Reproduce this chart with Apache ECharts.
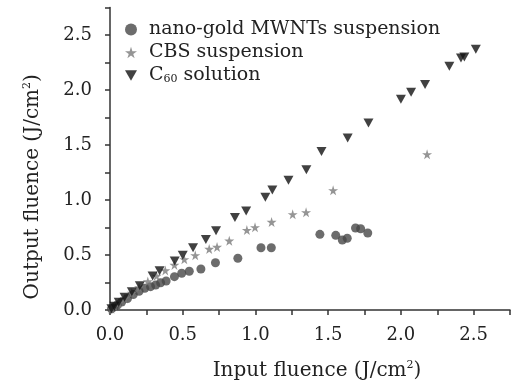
<!DOCTYPE html>
<html><head><meta charset="utf-8">
<script src="https://cdn.jsdelivr.net/npm/echarts@6/dist/echarts.min.js"></script>
<style>html,body{margin:0;padding:0;background:#fff}#c{width:513px;height:389px}</style>
</head><body><div id="c"></div>
<script>
// Data: [input fluence, output fluence] in J/cm^2
const seriesNames = ['nano-gold MWNTs suspension', 'CBS suspension', 'C60 solution'];
const goldX = [0.01,0.03,0.05,0.08,0.12,0.16,0.20,0.239,0.279,0.314,0.348,0.386,0.443,0.493,0.545,0.625,0.725,0.879,1.038,1.109,1.443,1.552,1.597,1.631,1.688,1.723,1.772];
const goldY = [0.01,0.028,0.045,0.072,0.105,0.14,0.17,0.197,0.212,0.227,0.248,0.264,0.303,0.334,0.352,0.373,0.43,0.47,0.566,0.566,0.688,0.679,0.636,0.652,0.745,0.739,0.70];
const cbsX = [0.01,0.03,0.06,0.10,0.15,0.20,0.26,0.32,0.38,0.443,0.511,0.586,0.682,0.736,0.82,0.941,0.997,1.111,1.256,1.348,1.534,2.18];
const cbsY = [0.011,0.033,0.065,0.105,0.155,0.205,0.26,0.31,0.36,0.41,0.461,0.497,0.555,0.573,0.63,0.727,0.752,0.80,0.87,0.888,1.088,1.415];
const c60X = [0.01,0.03,0.06,0.10,0.15,0.205,0.293,0.341,0.445,0.50,0.571,0.659,0.729,0.859,0.936,1.068,1.116,1.227,1.35,1.454,1.634,1.777,2.00,2.07,2.166,2.333,2.413,2.436,2.515];
const c60Y = [0.012,0.035,0.07,0.115,0.165,0.22,0.31,0.357,0.445,0.497,0.566,0.64,0.72,0.84,0.90,1.025,1.09,1.18,1.275,1.44,1.564,1.70,1.915,1.98,2.05,2.215,2.29,2.30,2.37];
const xTicks = [0, 0.5, 1.0, 1.5, 2.0, 2.5];
const yTicks = [0, 0.5, 1.0, 1.5, 2.0, 2.5];

const pair = (xs, ys) => xs.map((x, i) => [x, ys[i]]);
const FONT = 'DejaVu Serif';
const STAR = 'path://M50,0 L61,35 L98,35 L68,57 L79,91 L50,70 L21,91 L32,57 L2,35 L39,35 Z';
const TRI_DOWN = 'path://M0,0 L10,0 L5,8.6 Z';
const isMajor = (v, ticks) => ticks.some(t => Math.abs(t - v) < 1e-6);

const chart = echarts.init(document.getElementById('c'), null, {renderer: 'canvas'});
chart.setOption({
  animation: false,
  backgroundColor: '#fff',
  grid: {left: 110, right: 0, top: 7.5, bottom: 79},
  legend: {
    orient: 'vertical', left: 120, top: 15, itemGap: 4, itemWidth: 12, itemHeight: 15,
    data: seriesNames,
    formatter: n => n === 'C60 solution' ? '{b|C}{sub|60}{b| solution}' : n,
    textStyle: {
      fontFamily: FONT, fontSize: 19, color: '#222', padding: [0, 0, 0, 7],
      rich: {
        b: {fontFamily: FONT, fontSize: 19, color: '#222'},
        sub: {fontFamily: FONT, fontSize: 11, color: '#222', verticalAlign: 'bottom', padding: [8, 0, 0, 0]}
      }
    }
  },
  xAxis: {
    type: 'value', min: 0, max: 2.75, interval: 0.25,
    name: '{a|Input fluence (J/cm}{s|2}{a|)}', nameLocation: 'middle', nameGap: 50,
    nameTextStyle: {padding: [0, 0, 0, 14], rich: {
      a: {fontFamily: FONT, fontSize: 20, color: '#222'},
      s: {fontFamily: FONT, fontSize: 11, color: '#222', verticalAlign: 'top', padding: [0, 0, 10, 0]}
    }},
    axisLine: {lineStyle: {color: '#333', width: 1.5}},
    axisTick: {inside: false, length: 5, lineStyle: {color: '#333', width: 1.5}},
    axisLabel: {fontFamily: FONT, fontSize: 18, color: '#222', margin: 16,
      formatter: v => isMajor(v, xTicks) ? v.toFixed(1) : ''},
    splitLine: {show: false}
  },
  yAxis: {
    type: 'value', min: 0, max: 2.75, interval: 0.25,
    name: '{a|Output fluence (J/cm}{s|2}{a|)}', nameLocation: 'middle', nameGap: 67,
    nameTextStyle: {padding: [0, 56, 0, 0], rich: {
      a: {fontFamily: FONT, fontSize: 20, color: '#222'},
      s: {fontFamily: FONT, fontSize: 11, color: '#222', verticalAlign: 'top', padding: [0, 0, 10, 0]}
    }},
    axisLine: {lineStyle: {color: '#333', width: 1.5}},
    axisTick: {inside: false, length: 5, lineStyle: {color: '#333', width: 1.5}},
    axisLabel: {fontFamily: FONT, fontSize: 18, color: '#222', margin: 18,
      formatter: v => isMajor(v, yTicks) ? v.toFixed(1) : ''},
    splitLine: {show: false}
  },
  series: [
    {name: seriesNames[0], type: 'scatter', symbol: 'circle', symbolSize: 9,
     itemStyle: {color: '#474747'}, data: pair(goldX, goldY)},
    {name: seriesNames[1], type: 'scatter', symbol: STAR, symbolSize: 10,
     itemStyle: {color: '#7a7a7a'}, data: pair(cbsX, cbsY)},
    {name: seriesNames[2], type: 'scatter', symbol: TRI_DOWN, symbolSize: [10, 9],
     itemStyle: {color: '#111'}, data: pair(c60X, c60Y)}
  ]
});
</script></body></html>
